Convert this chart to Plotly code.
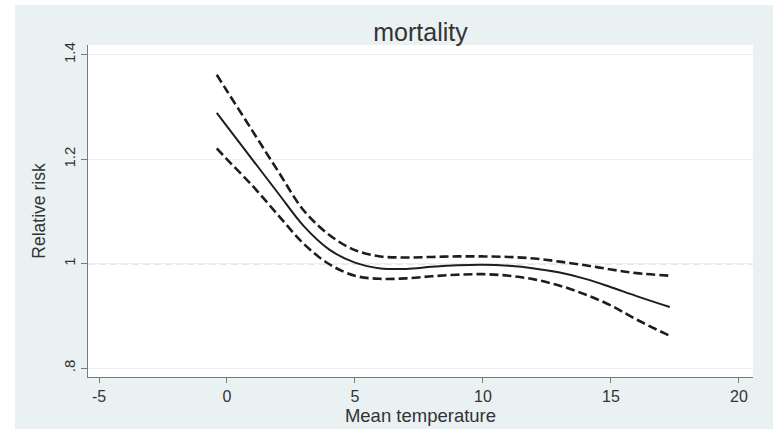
import plotly.graph_objects as go

# Data
temperature = [-0.4, 0, 1, 2, 3, 4, 5, 6, 7, 8, 9, 10, 11, 12, 13, 14, 15, 16, 17.3]
rr = [1.289, 1.263, 1.199, 1.135, 1.072, 1.027, 1.002, 0.991, 0.990, 0.994, 0.997, 0.998, 0.996, 0.991, 0.983, 0.971, 0.955, 0.938, 0.917]
rr_upper = [1.362, 1.331, 1.254, 1.177, 1.102, 1.055, 1.026, 1.014, 1.012, 1.013, 1.014, 1.014, 1.013, 1.010, 1.004, 0.997, 0.989, 0.982, 0.977]
rr_lower = [1.221, 1.200, 1.149, 1.093, 1.038, 0.999, 0.977, 0.971, 0.972, 0.976, 0.979, 0.980, 0.977, 0.970, 0.958, 0.941, 0.920, 0.893, 0.862]

x_ticks = [-5, 0, 5, 10, 15, 20]
x_ticktext = ["-5", "0", "5", "10", "15", "20"]
y_ticks = [0.8, 1.0, 1.2, 1.4]
y_ticktext = [".8", "1", "1.2", "1.4"]

FONT = "Liberation Sans, Arial, sans-serif"
BG = "#EAF1F3"

fig = go.Figure()
fig.add_trace(go.Scatter(x=temperature, y=rr_upper, mode="lines", line_shape="spline",
                         line=dict(color="#1e1e1e", width=2.6, dash="9px,4px"), showlegend=False))
fig.add_trace(go.Scatter(x=temperature, y=rr_lower, mode="lines", line_shape="spline",
                         line=dict(color="#1e1e1e", width=2.6, dash="9px,4px"), showlegend=False))
fig.add_trace(go.Scatter(x=temperature, y=rr, mode="lines", line_shape="spline",
                         line=dict(color="#1e1e1e", width=2), showlegend=False))

# Reference line at RR = 1
fig.add_shape(type="line", xref="paper", x0=0, x1=1, yref="y", y0=1, y1=1,
              line=dict(color="#a0a0a0", width=1.3, dash="7px,4px"), layer="between")

# White strips at top and left of the page (outer frame)
fig.add_shape(type="rect", xref="paper", yref="paper",
              x0=-0.2, x1=(15 - 88) / 665, y0=-0.3, y1=1.3,
              fillcolor="white", line=dict(width=0), layer="below")
fig.add_shape(type="rect", xref="paper", yref="paper",
              x0=-0.2, x1=1.1, y0=(377 - 5) / 332, y1=1.3,
              fillcolor="white", line=dict(width=0), layer="below")

fig.update_layout(
    width=773, height=429,
    margin=dict(l=88, r=20, t=45, b=52, autoexpand=False),
    paper_bgcolor=BG, plot_bgcolor="white",
    font=dict(family=FONT, color="#2a2a2a"),
    title=dict(text="mortality", x=0.5, xref="paper", y=1 - 32 / 429, yanchor="middle",
               xanchor="center", font=dict(size=25, color="#333333")),
    xaxis=dict(range=[-5.43, 20.55], tickvals=x_ticks, ticktext=x_ticktext,
               showline=True, linecolor="#7a7a7a", linewidth=1,
               ticks="outside", ticklen=5, tickcolor="#7a7a7a",
               showgrid=False, zeroline=False, automargin=False,
               tickfont=dict(size=16, color="#333333"),
               title=dict(text="Mean temperature", font=dict(size=18.5, color="#333333"), standoff=0)),
    yaxis=dict(range=[0.783, 1.419], tickvals=y_ticks, ticktext=y_ticktext,
               showline=True, linecolor="#7a7a7a", linewidth=1,
               ticks="outside", ticklen=6, tickcolor="#7a7a7a",
               showgrid=True, gridcolor="#EAF1F3", gridwidth=1, zeroline=False, automargin=False,
               tickangle=-90, tickfont=dict(size=15, color="#333333"),
               title=dict(text="Relative risk", font=dict(size=17.5, color="#333333"), standoff=10)),
)

fig.write_html("out.html", config={"displayModeBar": False},
               post_script="document.body.style.margin='0';document.body.style.padding='0';")
